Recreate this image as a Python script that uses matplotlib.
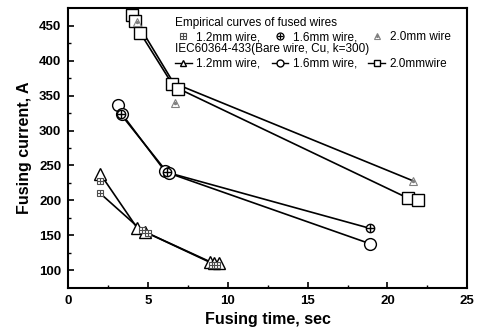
import matplotlib
matplotlib.use("Agg")
import matplotlib.pyplot as plt
from matplotlib.lines import Line2D

plt.rcParams['font.family'] = ['Liberation Sans', 'DejaVu Sans']

# IEC60364-433 curves (line + open marker)
iec12_x = [2.0, 4.3, 4.8, 8.9, 9.15, 9.45]
iec12_y = [238, 161, 155, 112, 111, 110]
iec16_x = [3.1, 3.35, 6.05, 6.3, 18.9]
iec16_y = [337, 324, 242, 239, 138]
iec20_x = [4.0, 4.2, 4.5, 6.5, 6.9, 21.3, 21.9]
iec20_y = [465, 457, 440, 367, 360, 203, 200]

# empirical measurements (markers)
emp12_x = [2.0, 2.0, 4.6, 5.0, 9.0, 9.3]
emp12_y = [228, 210, 157, 153, 108, 108]
emp16_x = [3.3, 6.2, 18.9]
emp16_y = [323, 240, 160]
emp20_x = [4.3, 6.7, 21.6]
emp20_y = [455, 340, 228]

# empirical fit curves
fit12_x = [2.0, 4.6, 9.0]
fit12_y = [210, 157, 110]
fit16_x = [3.3, 6.2, 18.9]
fit16_y = [323, 240, 160]
fit20_x = [4.3, 6.6, 21.6]
fit20_y = [455, 368, 228]

fig = plt.figure(figsize=(4.8, 3.31), dpi=100)
ax = fig.add_axes([0.1423, 0.1308, 0.8312, 0.8442])

lw = 1.2
ax.plot(fit12_x, fit12_y, color='black', lw=lw)
ax.plot(fit16_x, fit16_y, color='black', lw=lw)
ax.plot(fit20_x, fit20_y, color='black', lw=lw)

ax.plot(iec12_x, iec12_y, color='black', lw=lw, marker='^', ms=8.5, mfc='white', mec='black', mew=1.0)
ax.plot(iec16_x, iec16_y, color='black', lw=lw, marker='o', ms=8.5, mfc='white', mec='black', mew=1.0)
ax.plot(iec20_x, iec20_y, color='black', lw=lw, marker='s', ms=8, mfc='white', mec='black', mew=1.0)

# empirical markers: box-plus, circle-plus, gray triangle
ax.plot(emp12_x, emp12_y, ls='none', marker='s', ms=5, mfc='white', mec='0.3', mew=0.8)
ax.plot(emp12_x, emp12_y, ls='none', marker='+', ms=5, color='0.3', mew=0.8)
ax.plot(emp16_x, emp16_y, ls='none', marker='o', ms=6, mfc='white', mec='black', mew=1.0)
ax.plot(emp16_x, emp16_y, ls='none', marker='+', ms=6, color='black', mew=1.0)
ax.plot(emp20_x, emp20_y, ls='none', marker='^', ms=6, mfc='none', mec='0.5', mew=0.8)
ax.plot(emp20_x, emp20_y, ls='none', marker='.', ms=3, color='0.5')

ax.set_xlim(0, 25)
ax.set_ylim(75, 475)
ax.set_xticks([0, 5, 10, 15, 20, 25])
ax.set_yticks([100, 150, 200, 250, 300, 350, 400, 450])
ax.set_xticks([2.5, 7.5, 12.5, 17.5, 22.5], minor=True)
ax.set_yticks([125, 175, 225, 275, 325, 375, 425], minor=True)
ax.tick_params(which='both', direction='in', top=False, right=False)
ax.tick_params(which='major', length=4, width=1.2, labelsize=9.5, pad=5)
ax.tick_params(which='minor', length=2.5, width=1.0)
for lab in ax.get_xticklabels() + ax.get_yticklabels():
    lab.set_fontweight('bold')
for sp in ax.spines.values():
    sp.set_linewidth(1.5)

ax.set_xlabel('Fusing time, sec', fontsize=11.5, fontweight='bold', labelpad=4)
ax.set_ylabel('Fusing current, A', fontsize=11.5, fontweight='bold', labelpad=5)

emp_handles = [
    (Line2D([], [], ls='none', marker='s', ms=4.5, mfc='white', mec='0.3', mew=0.8),
     Line2D([], [], ls='none', marker='+', ms=4.5, color='0.3', mew=0.8)),
    (Line2D([], [], ls='none', marker='o', ms=5, mfc='white', mec='black', mew=0.9),
     Line2D([], [], ls='none', marker='+', ms=5, color='black', mew=0.9)),
    (Line2D([], [], ls='none', marker='^', ms=5, mfc='none', mec='0.5', mew=0.8),
     Line2D([], [], ls='none', marker='.', ms=2.5, color='0.5')),
]
iec_handles = [
    Line2D([], [], color='black', lw=1.0, marker='^', ms=5, mfc='white', mec='black'),
    Line2D([], [], color='black', lw=1.0, marker='o', ms=5, mfc='white', mec='black'),
    Line2D([], [], color='black', lw=1.0, marker='s', ms=5, mfc='white', mec='black'),
]
common = dict(loc='upper left', ncol=3, frameon=False, fontsize=8.5, title_fontsize=8.5,
              handlelength=1.4, handletextpad=0.4, columnspacing=0.95, borderpad=0.1,
              labelspacing=0.2, alignment='left')
leg1 = ax.legend(emp_handles, ['1.2mm wire,', '1.6mm wire,', '2.0mm wire'],
                 title='Empirical curves of fused wires', bbox_to_anchor=(0.25, 0.995), **common)
ax.add_artist(leg1)
ax.legend(iec_handles, ['1.2mm wire,', '1.6mm wire,', '2.0mmwire'],
          title='IEC60364-433(Bare wire, Cu, k=300)', bbox_to_anchor=(0.25, 0.9), **common)

fig.savefig('out.png', dpi=100)
